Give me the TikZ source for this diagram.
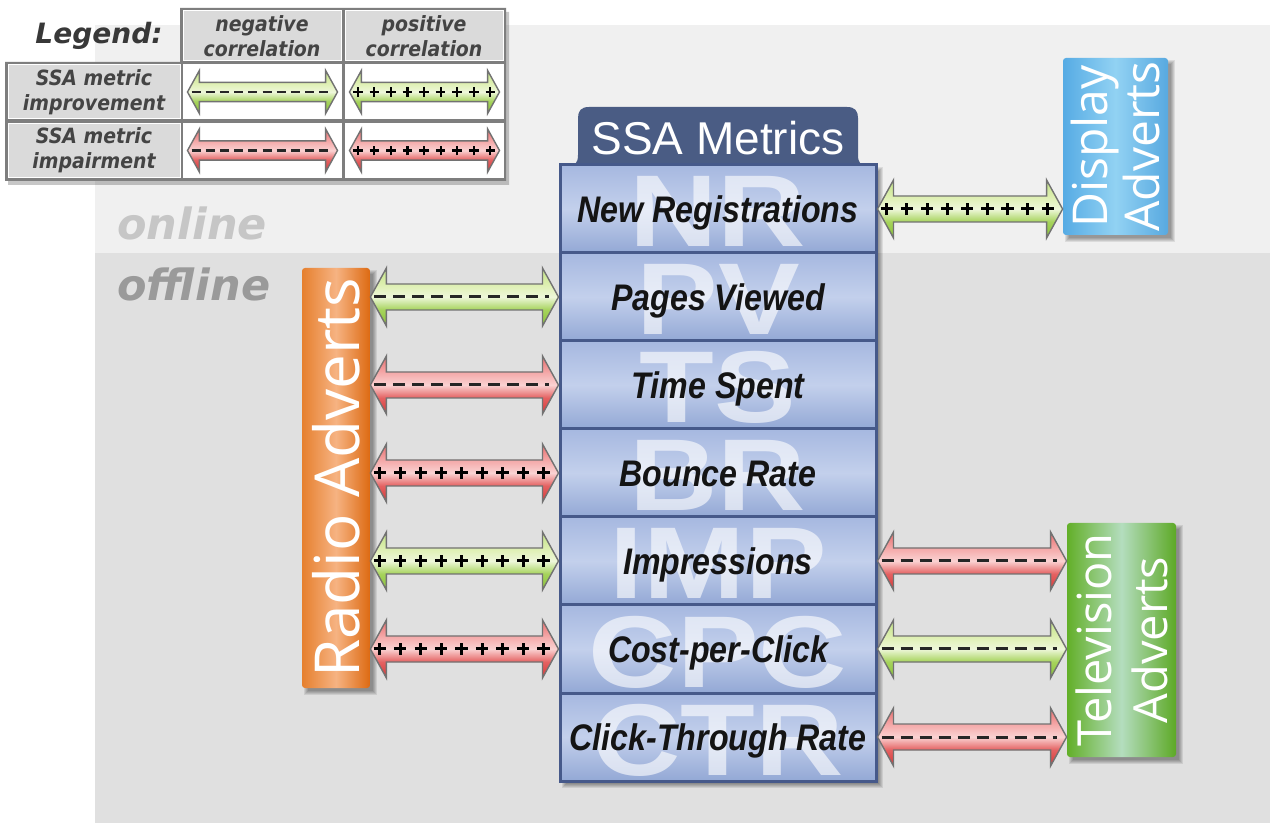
\documentclass[tikz,border=0pt]{standalone}
\usepackage{fontspec}
\setmainfont{Liberation Sans}
\newfontfamily\metricfont[FakeStretch=0.87]{Liberation Sans}
\newfontfamily\wmfont[FakeStretch=1.2]{Liberation Sans}
\newfontfamily\adfont{Open Sans}
\newfontfamily\legfont[FakeStretch=0.9]{DejaVu Sans}
\newfontfamily\zonefont{DejaVu Sans}
\usetikzlibrary{calc,decorations.markings}

\definecolor{bgon}{HTML}{F0F0F0}
\definecolor{bgoff}{HTML}{E0E0E0}
\definecolor{mblue}{HTML}{46598A}
\definecolor{tabblue}{HTML}{4A5C84}
\definecolor{rowtop}{HTML}{A6B8E0}
\definecolor{rowmid}{HTML}{C3D0EC}
\definecolor{rowbot}{HTML}{93A8D5}
\definecolor{arrline}{HTML}{727272}
\definecolor{orL}{HTML}{E6802E}
\definecolor{orM}{HTML}{F6B382}
\definecolor{orR}{HTML}{DD6A12}
\definecolor{dbL}{HTML}{56ABE4}
\definecolor{dbM}{HTML}{92D2F3}
\definecolor{dbR}{HTML}{58A9E0}
\definecolor{tvL}{HTML}{62AF28}
\definecolor{tvM}{HTML}{B4DDBE}
\definecolor{tvR}{HTML}{5DA926}
\definecolor{legframe}{HTML}{7E7E7E}
\definecolor{cellgray}{HTML}{DADADA}
\definecolor{legtext}{HTML}{444444}
\definecolor{ongray}{HTML}{C6C6C6}
\definecolor{offgray}{HTML}{9A9A9A}
% arrow body colours, from bottom edge to top edge
\definecolor{gA}{HTML}{88C238}
\definecolor{gB}{HTML}{A6D35C}
\definecolor{gC}{HTML}{EEF7DA}
\definecolor{gD}{HTML}{DDEFB0}
\definecolor{gE}{HTML}{C2E286}
\definecolor{rA}{HTML}{D63636}
\definecolor{rB}{HTML}{E46262}
\definecolor{rC}{HTML}{FAD2D2}
\definecolor{rD}{HTML}{F4A8A8}
\definecolor{rE}{HTML}{E86C6C}

% arrow body shadings: 25bp..75bp spans the arrow from bottom to top,
% the shaft covers roughly 39bp..61bp
\pgfdeclareverticalshading{greenarrow}{100bp}{%
  color(0bp)=(gA); color(25bp)=(gA); color(39bp)=(gB); color(50bp)=(gC);
  color(61bp)=(gD); color(75bp)=(gE); color(100bp)=(gE)}
\pgfdeclareverticalshading{redarrow}{100bp}{%
  color(0bp)=(rA); color(25bp)=(rA); color(39bp)=(rB); color(50bp)=(rC);
  color(61bp)=(rD); color(75bp)=(rE); color(100bp)=(rE)}

% double-headed block arrow between two points at the same height
% [#1] size factor, #2 start, #3 end, #4 body style, #5 centre-line marks
\newcommand\barrow[5][1]{%
  \path[#4] let \p1=#2, \p2=#3 in
    (\x1,\y1) -- (\x1+#1*8pt,\y1+#1*14.5pt) -- (\x1+#1*8pt,\y1+#1*6.5pt)
    -- (\x2-#1*8pt,\y1+#1*6.5pt) -- (\x2-#1*8pt,\y1+#1*14.5pt) -- (\x2,\y1)
    -- (\x2-#1*8pt,\y1-#1*14.5pt) -- (\x2-#1*8pt,\y1-#1*6.5pt)
    -- (\x1+#1*8pt,\y1-#1*6.5pt) -- (\x1+#1*8pt,\y1-#1*14.5pt) -- cycle;
  \path[#5] #2 -- #3;
}

% soft drop shadow under a box given by its corners
\newcommand\castshadow[4]{%
  \foreach \k in {0,...,4}{%
    \fill[black,opacity=0.085] (#1+6-\k,#2+6-\k) rectangle (#3+3+\k,#4+3+\k);
  }}

\tikzset{
  arrg/.style={draw=arrline, line width=0.7pt, shading=greenarrow},
  arrr/.style={draw=arrline, line width=0.7pt, shading=redarrow},
  dashmain/.style={draw=black!85, line width=1.5pt, dash pattern=on 6pt off 3.5pt, shorten <=2pt, shorten >=5pt},
  dashleg/.style={draw=black!85, line width=1.1pt, dash pattern=on 4.5pt off 2.6pt, shorten <=2pt, shorten >=4pt},
  plusmain/.style={decorate, decoration={markings,
      mark=between positions 0.05 and 0.925 step 0.10875 with
      {\draw[black, line width=1.5pt] (-3.1pt,0) -- (3.1pt,0) (0,-3.1pt) -- (0,3.1pt);}}},
  plusleg/.style={decorate, decoration={markings,
      mark=between positions 0.055 and 0.95 step 0.1105 with
      {\draw[black, line width=1.1pt] (-2.4pt,0) -- (2.4pt,0) (0,-2.4pt) -- (0,2.4pt);}}},
  wmark/.style={anchor=base, inner sep=0pt, text=white, text opacity=0.62,
      font=\wmfont\bfseries\fontsize{51}{51}\selectfont},
  metric/.style={draw=mblue, line width=1.5pt, minimum width=158pt, minimum height=44pt, inner sep=0pt,
      top color=rowtop, bottom color=rowbot, middle color=rowmid,
      text height=13.4pt, text depth=0pt,
      font=\metricfont\bfseries\itshape\fontsize{18.5}{20}\selectfont, text=black!92,
      path picture={\node[wmark] at ([yshift=-41pt]path picture bounding box.north) {#1};}},
  title/.style={inner sep=0pt, text=white, font=\fontsize{23}{25}\selectfont},
  zone/.style={inner sep=0pt, anchor=base west, font=\zonefont\bfseries\itshape\fontsize{21.5}{24}\selectfont},
  legcell/.style={minimum width=79pt, minimum height=27pt, inner sep=0pt, draw=white, line width=0.5pt},
  head/.style={legcell, fill=cellgray, text=legtext, align=center,
      font=\legfont\bfseries\itshape\fontsize{10.5}{12.5}\selectfont},
  armcell/.style={legcell, fill=white},
  adbox/.style={inner sep=0pt, rounded corners=1.5pt},
  adtext/.style={inner sep=0pt, rotate=90, text=white, align=center},
}

\begin{document}
\begin{tikzpicture}[x=0.5pt, y=-0.5pt]
\useasboundingbox (0,0) rectangle (1270,823);
\fill[white] (0,0) rectangle (1270,823);

% online / offline bands
\fill[bgon] (95,25) rectangle (1270,253);
\fill[bgoff] (95,253) rectangle (1270,823);
\node[zone, text=ongray] (online) at (117,240) {online};
\node[zone, text=offgray] (offline) at (117,301) {offline};

% legend table
\begin{scope}[shift={(3,4)}]
  \fill[black, opacity=0.22] (180,8) -- (506,8) -- (506,181) -- (5,181) -- (5,62) -- (180,62) -- cycle;
\end{scope}
\fill[legframe] (180,8) -- (506,8) -- (506,181) -- (5,181) -- (5,62) -- (180,62) -- cycle;
\node[inner sep=0pt, text=black!78, font=\zonefont\bfseries\itshape\fontsize{14}{16}\selectfont]
  (legend) at (99,36) {Legend:};
\node[head, minimum height=25pt] (hneg) at (262,36) {negative\\correlation};
\node[head, minimum height=25pt] (hpos) at (424,36) {positive\\correlation};
\node[head, minimum width=86pt] (rimp) at (94,92) {SSA metric\\improvement};
\node[head, minimum width=86pt] (rbad) at (94,150.5) {SSA metric\\impairment};
\node[armcell] (c11) at (262,92) {};
\node[armcell] (c12) at (424,92) {};
\node[armcell] (c21) at (262,150.5) {};
\node[armcell] (c22) at (424,150.5) {};
\barrow[0.74]{([xshift=2.5pt]c11.west)}{([xshift=-2pt]c11.east)}{arrg}{dashleg}
\barrow[0.74]{([xshift=2.5pt]c12.west)}{([xshift=-2pt]c12.east)}{arrg}{plusleg}
\barrow[0.74]{([xshift=2.5pt]c21.west)}{([xshift=-2pt]c21.east)}{arrr}{dashleg}
\barrow[0.74]{([xshift=2.5pt]c22.west)}{([xshift=-2pt]c22.east)}{arrr}{plusleg}

% metrics column
\castshadow{560}{165}{876}{781}
\fill[tabblue] (566,167) .. controls (575,167) and (578,163) .. (578,155) -- (578,118)
  .. controls (578,111) and (581,107) .. (589,107) -- (847,107)
  .. controls (855,107) and (858,111) .. (858,118) -- (858,155)
  .. controls (858,163) and (861,167) .. (870,167) -- cycle;
\node[title] (title) at (718,138) {SSA Metrics};
\node[metric=NR]  (nr)  at (718,209) {New Registrations};
\node[metric=PV]  (pv)  at (718,297) {Pages Viewed};
\node[metric=TS]  (ts)  at (718,385) {Time Spent};
\node[metric=BR]  (br)  at (718,473) {Bounce Rate};
\node[metric=IMP] (imp) at (718,561) {Impressions};
\node[metric=CPC] (cpc) at (718,649) {Cost-per-Click};
\node[metric=CTR] (ctr) at (718,737) {Click-Through Rate};

% advert channels
\castshadow{302}{268}{370}{688}
\castshadow{1063}{58}{1168}{235}
\castshadow{1067}{523}{1176}{757}
\node[adbox, minimum width=34pt, minimum height=210pt, left color=orL, right color=orR, middle color=orM]
  (radio) at (336,478) {};
\node[adtext, font=\adfont\fontsize{31}{33}\selectfont] (radiotext) at (radio.center) {Radio Adverts};
\node[adbox, minimum width=52.5pt, minimum height=88.5pt, left color=dbL, right color=dbR, middle color=dbM]
  (display) at (1115.5,146.5) {};
\node[adtext, font=\adfont\fontsize{24}{26}\selectfont] (displaytext) at (display.center) {Display\\Adverts};
\node[adbox, minimum width=54.5pt, minimum height=117pt, left color=tvL, right color=tvR, middle color=tvM]
  (tv) at (1121.5,640) {};
\node[adtext, font=\adfont\fontsize{23.5}{28}\selectfont] (tvtext) at (tv.center) {Television\\Adverts};

% correlations
\barrow{(nr.east)}{(display.west |- nr.east)}{arrg}{plusmain}
\barrow{(radio.east |- pv.west)}{(pv.west)}{arrg}{dashmain}
\barrow{(radio.east |- ts.west)}{(ts.west)}{arrr}{dashmain}
\barrow{(radio.east |- br.west)}{(br.west)}{arrr}{plusmain}
\barrow{(radio.east |- imp.west)}{(imp.west)}{arrg}{plusmain}
\barrow{(radio.east |- cpc.west)}{(cpc.west)}{arrr}{plusmain}
\barrow{(imp.east)}{(tv.west |- imp.east)}{arrr}{dashmain}
\barrow{(cpc.east)}{(tv.west |- cpc.east)}{arrg}{dashmain}
\barrow{(ctr.east)}{(tv.west |- ctr.east)}{arrr}{dashmain}
\end{tikzpicture}
\end{document}
